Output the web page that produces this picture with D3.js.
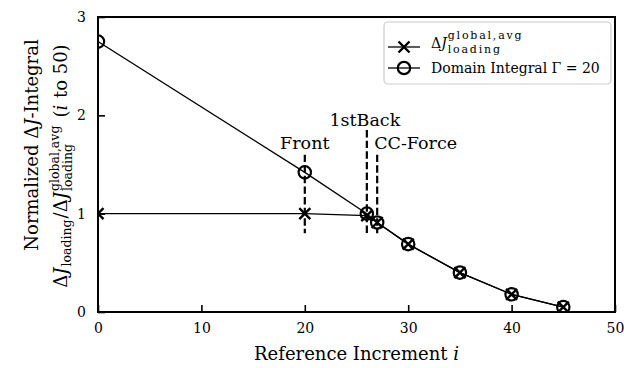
<!DOCTYPE html>
<html>
<head>
<meta charset="utf-8">
<script src="https://cdn.jsdelivr.net/npm/d3@7"></script>
<style>
  body { margin: 0; background: #fff; }
  svg { font-family: 'DejaVu Serif', serif; }
  text { white-space: pre; }
</style>
</head>
<body>
<svg id="chart" width="624" height="368"></svg>
<script>
// reference increments and normalized delta J values
const increments = [0, 20, 26, 27, 30, 35, 40, 45]
const domainIntegral = [2.75, 1.42, 1.0, 0.91, 0.69, 0.40, 0.18, 0.05]
const globalAvg = [1.0, 1.0, 0.98, 0.91, 0.69, 0.40, 0.18, 0.05]

const xTicks = [0, 10, 20, 30, 40, 50]
const yTicks = [0, 1, 2, 3]

// vertical markers for the load cases
const markNames = ['Front', '1stBack', 'CC-Force']
const markAt = [20, 26, 27]
const markTop = [1.6, 1.85, 1.6]
const markBottom = [0.8, 0.8, 0.8]

const svg = d3.select('#chart')
const plotLeft = 98, plotRight = 615, plotTop = 17, plotBottom = 312

const x = d3.scaleLinear().domain([0, 50]).range([plotLeft, plotRight])
const y = d3.scaleLinear().domain([0, 3]).range([plotBottom, plotTop])

svg.append('defs').append('clipPath').attr('id', 'plotClip')
  .append('rect')
  .attr('x', plotLeft).attr('y', plotTop)
  .attr('width', plotRight - plotLeft).attr('height', plotBottom - plotTop)

// axes, ticks inside
const xAxis = svg.append('g')
  .attr('transform', `translate(0,${plotBottom})`)
  .call(d3.axisBottom(x).tickValues(xTicks).tickFormat(d3.format('d'))
    .tickSizeInner(-7).tickSizeOuter(0).tickPadding(11))
const yAxis = svg.append('g')
  .attr('transform', `translate(${plotLeft},0)`)
  .call(d3.axisLeft(y).tickValues(yTicks).tickFormat(d3.format('d'))
    .tickSizeInner(-7).tickSizeOuter(0).tickPadding(12))

;[xAxis, yAxis].forEach(a => {
  a.select('.domain').remove()
  a.selectAll('line').attr('stroke', '#000').attr('stroke-width', 1.6)
  a.selectAll('text').attr('font-family', 'DejaVu Serif').attr('font-size', 14).attr('fill', '#000')
})

svg.append('rect') // frame
  .attr('x', plotLeft).attr('y', plotTop)
  .attr('width', plotRight - plotLeft).attr('height', plotBottom - plotTop)
  .attr('fill', 'none').attr('stroke', '#000').attr('stroke-width', 2)

const plot = svg.append('g').attr('clip-path', 'url(#plotClip)')

const line = d3.line()
  .x((d, i) => x(increments[i]))
  .y(d => y(d))

plot.append('path').datum(globalAvg).attr('d', line)
  .attr('fill', 'none').attr('stroke', '#000').attr('stroke-width', 1.3)
plot.append('path').datum(domainIntegral).attr('d', line)
  .attr('fill', 'none').attr('stroke', '#000').attr('stroke-width', 1.3)

function cross (g, cx, cy) {
  const s = 5.5
  g.append('path')
    .attr('d', `M${cx - s},${cy - s}L${cx + s},${cy + s}M${cx - s},${cy + s}L${cx + s},${cy - s}`)
    .attr('stroke', '#000').attr('stroke-width', 2.4).attr('fill', 'none')
}
function ring (g, cx, cy) {
  g.append('circle').attr('cx', cx).attr('cy', cy).attr('r', 6.2)
    .attr('fill', 'none').attr('stroke', '#000').attr('stroke-width', 2.2)
}

globalAvg.forEach((d, i) => cross(plot, x(increments[i]), y(d)))
domainIntegral.forEach((d, i) => ring(plot, x(increments[i]), y(d)))

// dashed annotation lines
markAt.forEach((m, i) => {
  svg.append('line')
    .attr('x1', x(m)).attr('x2', x(m))
    .attr('y1', y(markTop[i])).attr('y2', y(markBottom[i]))
    .attr('stroke', '#000').attr('stroke-width', 2.2)
    .attr('stroke-dasharray', '7.4,3.2')
})
svg.append('text').attr('x', x(markAt[0])).attr('y', y(1.66))
  .attr('text-anchor', 'middle').attr('font-size', 17.5).text(markNames[0])
svg.append('text').attr('x', x(markAt[1]) - 2).attr('y', y(1.89))
  .attr('text-anchor', 'middle').attr('font-size', 17.5).text(markNames[1])
svg.append('text').attr('x', x(markAt[2]) - 3).attr('y', y(1.66))
  .attr('text-anchor', 'start').attr('font-size', 17.5).text(markNames[2])

// places pieces of a formula one after another, super/sub stacked
// piece: {t, it, size, sup, sub, ls}
function mathText (g, pieces, size) {
  let cx = 0
  pieces.forEach(p => {
    if (p.sup || p.sub) {
      let w = 0
      if (p.sup) {
        const s = g.append('text').attr('x', cx).attr('y', -p.up)
          .attr('font-size', p.size).attr('letter-spacing', p.ls || 0).text(p.sup)
        w = Math.max(w, s.node().getComputedTextLength())
      }
      if (p.sub) {
        const s = g.append('text').attr('x', cx).attr('y', p.down)
          .attr('font-size', p.size).attr('letter-spacing', p.ls || 0).text(p.sub)
        w = Math.max(w, s.node().getComputedTextLength())
      }
      cx += w + (p.gap || 0)
    } else {
      const s = g.append('text').attr('x', cx).attr('y', 0)
        .attr('font-size', size).text(p.t)
      if (p.it) s.attr('font-style', 'italic')
      cx += s.node().getComputedTextLength() + (p.gap || 0)
    }
  })
  return cx
}

// axis labels
const xl = svg.append('text').attr('x', (plotLeft + plotRight) / 2).attr('y', 360)
  .attr('text-anchor', 'middle').attr('font-size', 18)
xl.append('tspan').text('Reference Increment ')
xl.append('tspan').attr('font-style', 'italic').text('i')

const yl1 = svg.append('text').attr('transform', 'translate(38,145) rotate(-90)')
  .attr('text-anchor', 'middle').attr('font-size', 18)
yl1.append('tspan').text('Normalized Δ')
yl1.append('tspan').attr('font-style', 'italic').text('J')
yl1.append('tspan').text('-Integral')

const yl2 = svg.append('g')
const yl2w = mathText(yl2, [
  { t: 'Δ' }, { t: 'J', it: true, gap: 1 },
  { sub: 'loading', size: 12.5, down: 4, gap: 1 },
  { t: '/Δ' }, { t: 'J', it: true, gap: 1 },
  { sup: 'global,avg', sub: 'loading', size: 12.5, up: 8, down: 5, gap: 8 },
  { t: '(' }, { t: 'i', it: true, gap: 1 }, { t: ' to 50)' }
], 18)
yl2.attr('transform', `translate(67,${166 + yl2w / 2}) rotate(-90)`)

// legend
const lg = svg.append('g')
lg.append('rect').attr('x', 384).attr('y', 22).attr('width', 227).attr('height', 62)
  .attr('rx', 4).attr('fill', '#fff').attr('stroke', '#ccc').attr('stroke-width', 1.2)
lg.append('line').attr('x1', 388).attr('x2', 420).attr('y1', 47).attr('y2', 47)
  .attr('stroke', '#000').attr('stroke-width', 1.3)
cross(lg, 404, 47)
lg.append('line').attr('x1', 388).attr('x2', 420).attr('y1', 68).attr('y2', 68)
  .attr('stroke', '#000').attr('stroke-width', 1.3)
ring(lg, 404, 68)

const lt1 = lg.append('g').attr('transform', 'translate(431,48)')
mathText(lt1, [
  { t: 'Δ' }, { t: 'J', it: true, gap: 1 },
  { sup: 'global,avg', sub: 'loading', size: 11, up: 9, down: 5, ls: 1.8 }
], 14)

lg.append('text').attr('x', 431).attr('y', 73).attr('font-size', 14)
  .text('Domain Integral Γ = 20')
</script>
</body>
</html>
